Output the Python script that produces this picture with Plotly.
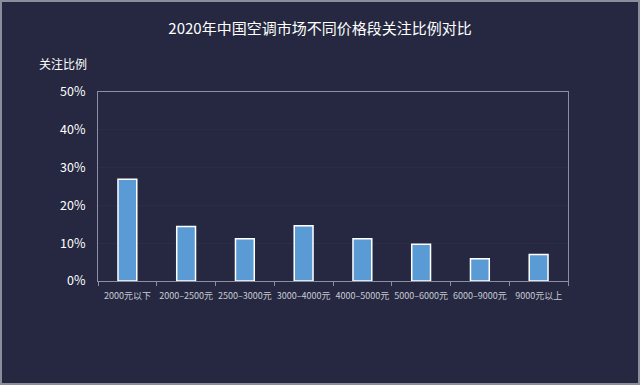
import plotly.graph_objects as go

categories = ["2000元以下", "2000–2500元", "2500–3000元", "3000–4000元",
              "4000–5000元", "5000–6000元", "6000–9000元", "9000元以上"]
values = [0.269, 0.144, 0.112, 0.146, 0.112, 0.097, 0.059, 0.070]
y_ticks = [0, 0.1, 0.2, 0.3, 0.4, 0.5]
y_tick_labels = ["0%", "10%", "20%", "30%", "40%", "50%"]

bg = "#252840"
font_family = "Noto Sans CJK SC, Noto Sans, sans-serif"

fig = go.Figure(go.Bar(
    x=categories, y=values,
    marker=dict(color="#5B9BD5", line=dict(color="#FFFFFF", width=1.5)),
))

fig.update_layout(
    width=640, height=385,
    paper_bgcolor=bg, plot_bgcolor=bg,
    margin=dict(l=98, r=72, t=92, b=104),
    bargap=0.68,
    showlegend=False,
    font=dict(family=font_family, color="#FFFFFF"),
    title=dict(text="2020年中国空调市场不同价格段关注比例对比",
               x=0.5, xanchor="center", y=0.925, yanchor="middle",
               font=dict(size=15, color="#FFFFFF", family=font_family)),
    annotations=[dict(text="关注比例", xref="paper", yref="paper",
                      x=-0.075, y=1.153, xanchor="center", yanchor="middle",
                      showarrow=False,
                      font=dict(size=12, color="#FFFFFF", family=font_family))],
    shapes=[dict(type="rect", xref="paper", yref="paper",
                 x0=-97/470, x1=1+71/470, y0=-103/189, y1=1+91/189,
                 line=dict(color="#8a8d9c", width=2), fillcolor="rgba(0,0,0,0)",
                 layer="above")],
)

fig.update_xaxes(
    showline=True, linecolor="#8c8fa0", linewidth=1, mirror=True,
    ticks="outside", tickcolor="#8c8fa0", ticklen=4, tickson="boundaries",
    tickfont=dict(size=9, color="#c8cad4"),
    showgrid=False, tickangle=0, ticklabelstandoff=6,
)
fig.update_yaxes(
    range=[0, 0.5], tickvals=y_ticks, ticktext=y_tick_labels,
    showline=True, linecolor="#8c8fa0", linewidth=1, mirror=True,
    ticks="", tickfont=dict(size=12.5, color="#FFFFFF"),
    showgrid=True, gridcolor="#2b2d45", gridwidth=1, zeroline=False,
    ticklabelstandoff=9,
)

fig.write_html("out.html", config={"displayModeBar": False},
               post_script="document.body.style.margin='0';document.body.style.overflow='hidden';")
